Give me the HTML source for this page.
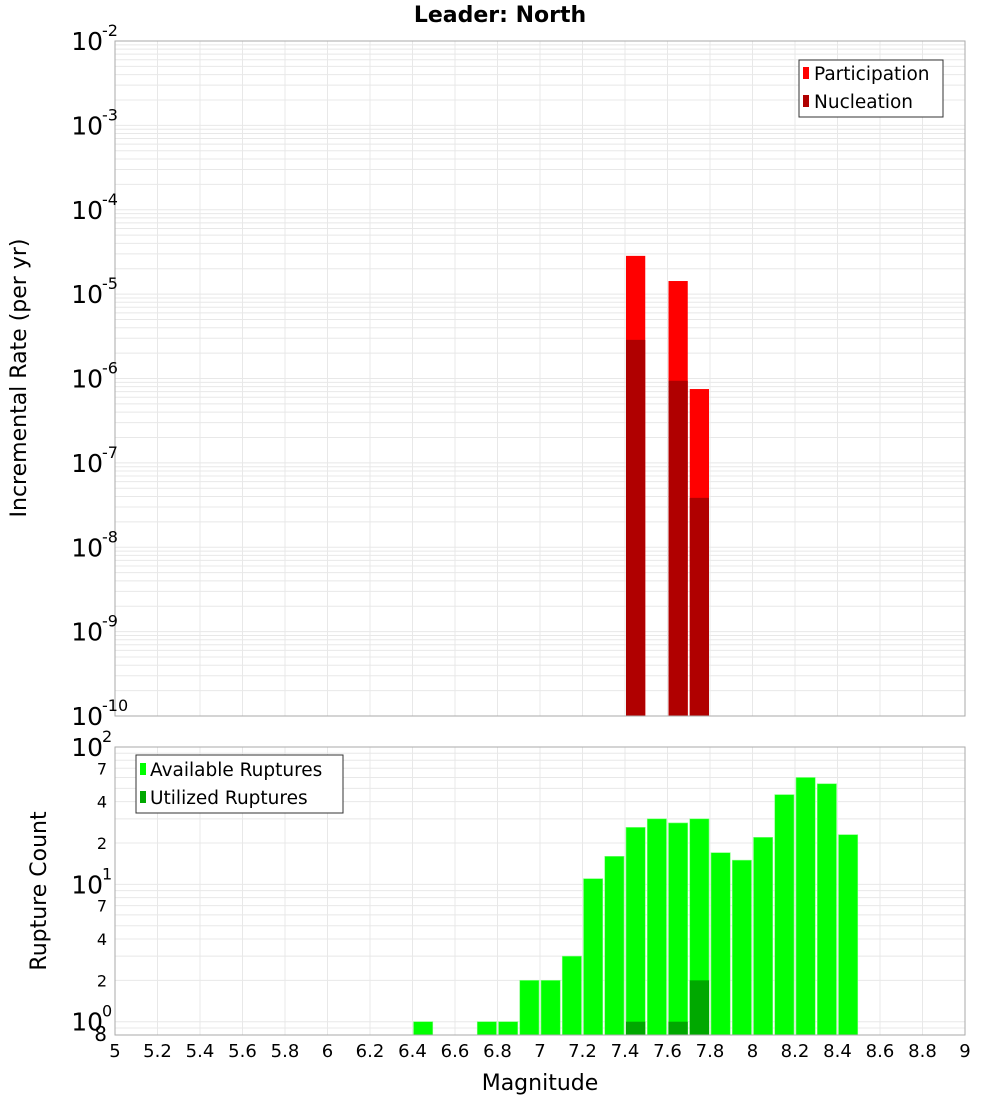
<!DOCTYPE html>
<html><head><meta charset="utf-8"><style>
html,body{margin:0;padding:0;background:#fff;}
svg{display:block;font-family:"DejaVu Sans","Liberation Sans",sans-serif;}
</style></head><body>
<svg id="chart" width="1000" height="1100" viewBox="0 0 1000 1100" xmlns="http://www.w3.org/2000/svg">
<text x="500" y="22" text-anchor="middle" font-size="22" font-weight="bold">Leader: North</text>
<g id="topPlot"></g>
<g id="botPlot"></g>
<text transform="translate(26,378) rotate(-90)" text-anchor="middle" font-size="22">Incremental Rate (per yr)</text>
<text transform="translate(46,891) rotate(-90)" text-anchor="middle" font-size="22">Rupture Count</text>
<text x="540" y="1090" text-anchor="middle" font-size="22">Magnitude</text>
<g>
<rect x="799" y="60" width="144" height="57" fill="#fff" stroke="#333"/>
<rect x="803" y="67" width="6" height="12" fill="#ff0000"/>
<text x="814" y="80" font-size="18.5">Participation</text>
<rect x="803" y="95" width="6" height="12" fill="#b00000"/>
<text x="814" y="108" font-size="18.5">Nucleation</text>
</g>
<g>
<rect x="136" y="755" width="207" height="58" fill="#fff" stroke="#333"/>
<rect x="140" y="763" width="6" height="12" fill="#00ff00"/>
<text x="150" y="776" font-size="18.5">Available Ruptures</text>
<rect x="140" y="791" width="6" height="12" fill="#00a800"/>
<text x="150" y="804" font-size="18.5">Utilized Ruptures</text>
</g>
</svg>
<script>
const rateMags=[7.45,7.65,7.75];
const participation=[2.84e-5,1.43e-5,7.5e-7];
const nucleation=[2.87e-6,9.4e-7,3.85e-8];
const countMags=[6.45,6.75,6.85,6.95,7.05,7.15,7.25,7.35,7.45,7.55,7.65,7.75,7.85,7.95,8.05,8.15,8.25,8.35,8.45];
const available=[1,1,1,2,2,3,11,16,26,30,28,30,17,15,22,45,60,54,23];
const utilMags=[7.45,7.65,7.75];
const utilized=[1,1,2];
const xTicks=["5","5.2","5.4","5.6","5.8","6","6.2","6.4","6.6","6.8","7","7.2","7.4","7.6","7.8","8","8.2","8.4","8.6","8.8","9"];

const NS="http://www.w3.org/2000/svg";
const X0=115,X1=965,XMIN=5,XMAX=9;
const xs=m=>X0+(m-XMIN)/(XMAX-XMIN)*(X1-X0);
const T0=41,T1=716,TMIN=-10,TMAX=-2;
const yT=v=>T1-(Math.log10(v)-TMIN)/(TMAX-TMIN)*(T1-T0);
const B0=747,B1=1035,BMIN=Math.log10(0.8),BMAX=2;
const yB=v=>B1-(Math.log10(v)-BMIN)/(BMAX-BMIN)*(B1-B0);
function mk(parent,tag,attrs){const e=document.createElementNS(NS,tag);for(const k in attrs)e.setAttribute(k,attrs[k]);parent.appendChild(e);return e;}
const topG=document.getElementById('topPlot'),botG=document.getElementById('botPlot');
const svgEl=document.getElementById('chart');

function grid(g,y0,y1,yf,lmin,lmax){
  mk(g,'rect',{x:X0,y:y0,width:X1-X0,height:y1-y0,fill:'#fff'});
  for(let i=0;i<=20;i++){const xx=xs(5+i*0.2);mk(g,'line',{x1:xx,x2:xx,y1:y0,y2:y1,stroke:'#e8e8e8'});}
  for(let d=Math.floor(lmin);d<lmax;d++){for(let k=1;k<10;k++){const v=k*Math.pow(10,d);const lv=Math.log10(v);if(lv<lmin-1e-9||lv>lmax+1e-9)continue;const yy=yf(v);mk(g,'line',{x1:X0,x2:X1,y1:yy,y2:yy,stroke:'#e8e8e8'});}}
}
grid(topG,T0,T1,yT,TMIN,TMAX);
grid(botG,B0,B1,yB,BMIN,BMAX);

const bw=(X1-X0)/(XMAX-XMIN)*0.1;
rateMags.forEach((m,i)=>{
  const r=mk(topG,'rect',{x:xs(m)-bw/2+1,y:yT(participation[i]),width:bw-2,height:T1-yT(participation[i]),fill:'#ff0000'});
  
  
  const n=mk(topG,'rect',{x:xs(m)-bw/2+1,y:yT(nucleation[i]),width:bw-2,height:T1-yT(nucleation[i]),fill:'#b00000'});
  
  
});
countMags.forEach((m,i)=>{
  const r=mk(botG,'rect',{x:xs(m)-bw/2+1,y:yB(available[i]),width:bw-2,height:B1-yB(available[i]),fill:'#00ff00',stroke:'#7fff7f','stroke-width':0.6});
  
  
});
utilMags.forEach((m,i)=>{
  const r=mk(botG,'rect',{x:xs(m)-bw/2+1,y:yB(utilized[i]),width:bw-2,height:B1-yB(utilized[i]),fill:'#00a800'});
  
  
});
mk(topG,'rect',{x:X0,y:T0,width:X1-X0,height:T1-T0,fill:'none',stroke:'#aaa'});
mk(botG,'rect',{x:X0,y:B0,width:X1-X0,height:B1-B0,fill:'none',stroke:'#aaa'});

function powLabel(g,yy,exp,name){
  const t=mk(g,'text',{x:103,y:yy+9,'text-anchor':'end','font-size':25});
  
  
  t.textContent='10';
  const s=mk(g,'text',{x:102,y:yy-5,'font-size':16});
  
  
  s.textContent=exp;
}
for(let d=TMIN;d<=TMAX;d++)powLabel(topG,yT(Math.pow(10,d)),String(d),'y-tick-rate');
for(let d=0;d<=2;d++)powLabel(botG,yB(Math.pow(10,d)),String(d),'y-tick-count');
[2,4,7,20,40,70,0.8].forEach(v=>{
  const t=mk(botG,'text',{x:107,y:yB(v)+6,'text-anchor':'end','font-size':v===0.8?20:16});
  
  
  t.textContent=v===0.8?'8':String(v)[0];
});
xTicks.forEach(s=>{
  const t=mk(svgEl,'text',{x:xs(parseFloat(s)),y:1057,'text-anchor':'middle','font-size':18});
  
  
  t.textContent=s;
});
</script>
</body></html>
